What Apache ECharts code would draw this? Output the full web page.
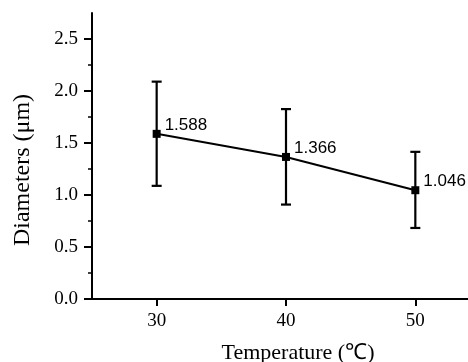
<!DOCTYPE html>
<html><head><meta charset="utf-8">
<script src="https://cdn.jsdelivr.net/npm/echarts@6/dist/echarts.min.js"></script>
<style>html,body{margin:0;padding:0;background:#fff}#c{width:468px;height:362px}</style>
</head><body><div id="c"></div>
<script>
const temperatures = [30, 40, 50];
const diameters = [1.588, 1.366, 1.046];
const errUpper = [2.09, 1.826, 1.415];
const errLower = [1.088, 0.908, 0.683];
const labels = ['1.588', '1.366', '1.046'];
const yTicks = [0, 0.5, 1.0, 1.5, 2.0, 2.5];
const yMinorTicks = [0.25, 0.75, 1.25, 1.75, 2.25];

const chart = echarts.init(document.getElementById('c'));
const serif = '"Liberation Serif", "Times New Roman", serif';
const sans = '"Liberation Sans", Arial, sans-serif';

chart.setOption({
  backgroundColor: '#fff',
  animation: false,
  grid: { left: 92, right: -12, top: 13, bottom: 63, containLabel: false, outerBoundsMode: 'none' },
  xAxis: {
    type: 'value', min: 25, max: 55, interval: 5,
    name: 'Temperature (\u2103)', nameLocation: 'middle', nameGap: 43,
    nameTextStyle: { fontFamily: serif, fontSize: 22, color: '#000', padding: [0, 0, 0, 24] },
    axisLine: { lineStyle: { color: '#000', width: 2 } },
    axisTick: { show: true, length: 7, lineStyle: { color: '#000', width: 2 }, customValues: temperatures },
    axisLabel: { color: '#000', fontFamily: serif, fontSize: 19, margin: 13, customValues: temperatures },
    splitLine: { show: false }
  },
  yAxis: {
    type: 'value', min: 0, max: 2.75, interval: 0.25,
    name: 'Diameters (\u03bcm)', nameLocation: 'middle', nameGap: 57,
    nameTextStyle: { fontFamily: serif, fontSize: 24, color: '#000', padding: [0, 28, 0, 0] },
    axisLine: { show: true, lineStyle: { color: '#000', width: 2 } },
    axisTick: { show: true, length: 8, lineStyle: { color: '#000', width: 2 }, customValues: yTicks },
    minorTick: { show: false },
    axisLabel: { color: '#000', fontFamily: serif, fontSize: 19, margin: 14, customValues: yTicks,
      formatter: v => v.toFixed(1) },
    splitLine: { show: false }
  },
  series: [
    {
      type: 'custom',
      data: yMinorTicks.map(v => [v]),
      renderItem: function (params, api) {
        const p = api.coord([25, api.value(0)]);
        return { type: 'line', shape: { x1: p[0] - 4, y1: p[1], x2: p[0], y2: p[1] },
          style: { stroke: '#000', lineWidth: 1.5 } };
      },
      silent: true, z: 1
    },
    {
      type: 'custom',
      data: temperatures.map((t, i) => [t, errLower[i], errUpper[i]]),
      renderItem: function (params, api) {
        const lo = api.coord([api.value(0), api.value(1)]);
        const hi = api.coord([api.value(0), api.value(2)]);
        const w = 5;
        const style = { stroke: '#000', lineWidth: 2.2 };
        return {
          type: 'group',
          children: [
            { type: 'line', shape: { x1: hi[0], y1: hi[1], x2: lo[0], y2: lo[1] }, style },
            { type: 'line', shape: { x1: hi[0] - w, y1: hi[1], x2: hi[0] + w, y2: hi[1] }, style },
            { type: 'line', shape: { x1: lo[0] - w, y1: lo[1], x2: lo[0] + w, y2: lo[1] }, style }
          ]
        };
      },
      z: 2
    },
    {
      type: 'line',
      data: temperatures.map((t, i) => [t, diameters[i]]),
      symbol: 'rect', symbolSize: 8,
      lineStyle: { color: '#000', width: 2 },
      itemStyle: { color: '#000' },
      label: {
        show: true, position: 'right', distance: 4, offset: [0, -9],
        fontFamily: sans, fontSize: 17, color: '#000',
        formatter: p => labels[p.dataIndex]
      },
      z: 3
    }
  ]
});
</script></body></html>
